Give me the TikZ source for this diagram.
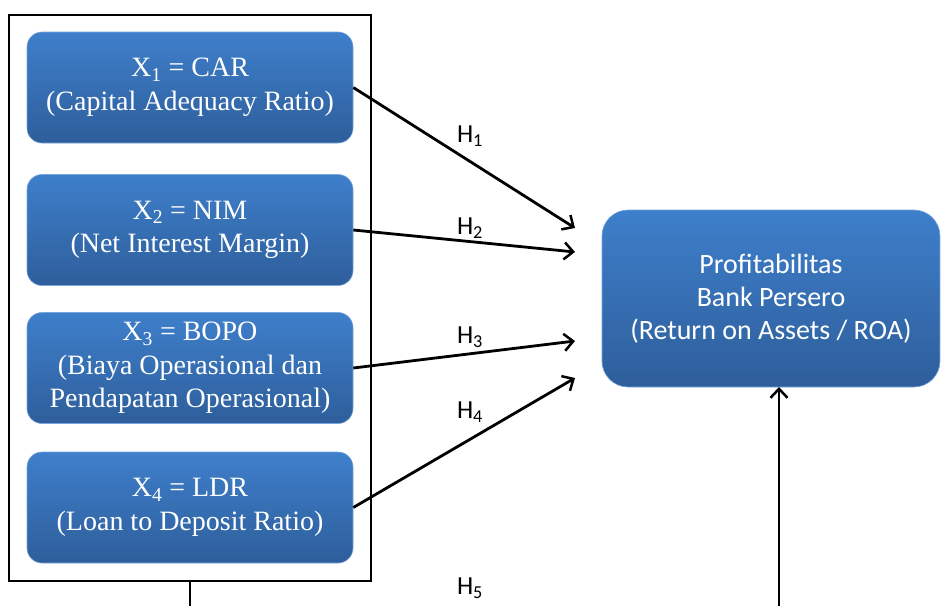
\documentclass[tikz,border=0pt]{standalone}
\usepackage{fontspec}
\setmainfont{Liberation Serif}
\newfontfamily\calfont{Carlito}
\usetikzlibrary{arrows.meta}
\definecolor{btop}{RGB}{62,127,203}
\definecolor{bbot}{RGB}{46,94,155}
\begin{document}
\begin{tikzpicture}[x=1pt,y=-1pt,
  varbox/.style={rounded corners=15pt, top color=btop, bottom color=bbot, draw=btop!70!white, line width=0.6pt,
    minimum width=326pt, minimum height=111pt, inner sep=0pt, align=center, text=white,
    font=\fontsize{28}{33.5}\selectfont},
  roabox/.style={rounded corners=26pt, top color=btop, bottom color=bbot, draw=btop!70!white, line width=0.6pt,
    minimum width=338pt, minimum height=177pt, inner sep=0pt, align=center, text=white,
    font=\calfont\fontsize{28}{33}\selectfont},
  hlab/.style={font=\calfont\fontsize{26}{28}\selectfont, inner sep=0pt},
  conn/.style={line width=2.8pt, -{Straight Barb[length=9pt,width=17pt,line width=2.5pt]}},
  frame/.style={line width=2.4pt}
]
\useasboundingbox (0,0) rectangle (942,605);
\draw[frame] (9,15) rectangle (371,581);
\coordinate (fb) at (190,581);
\coordinate (fbo) at (190,606);
\node[varbox] (x1) at (190,87.5) {X\textsubscript{1} = CAR\\(Capital Adequacy Ratio)};
\node[varbox] (x2) at (190,230) {X\textsubscript{2} = NIM\\(Net Interest Margin)};
\node[varbox] (x3) at (190,368) {X\textsubscript{3} = BOPO\\(Biaya Operasional dan\\Pendapatan Operasional)};
\node[varbox] (x4) at (190,507.5) {X\textsubscript{4} = LDR\\(Loan to Deposit Ratio)};
\node[roabox] (roa) at (771,298.5) {Profitabilitas\\Bank Persero\\(Return on Assets / ROA)};
\coordinate (e1) at (575,228);
\coordinate (e2) at (575,252);
\coordinate (e3) at (575,341);
\coordinate (e4) at (575,378);
\coordinate (rb) at (779,387);
\coordinate (rbo) at (779,606);
\draw[conn] (x1.east) -- (e1);
\draw[conn] (x2.east) -- (e2);
\draw[conn] (x3.east) -- (e3);
\draw[conn] (x4.east) -- (e4);
\draw[line width=2.8pt] (fb) -- (fbo);
\draw[conn] (rbo) -- (rb);
\node[hlab] (h1) at (470,136) {H\textsubscript{1}};
\node[hlab] (h2) at (470,228) {H\textsubscript{2}};
\node[hlab] (h3) at (470,337) {H\textsubscript{3}};
\node[hlab] (h4) at (470,412) {H\textsubscript{4}};
\node[hlab] (h5) at (470,588) {H\textsubscript{5}};
\end{tikzpicture}
\end{document}
